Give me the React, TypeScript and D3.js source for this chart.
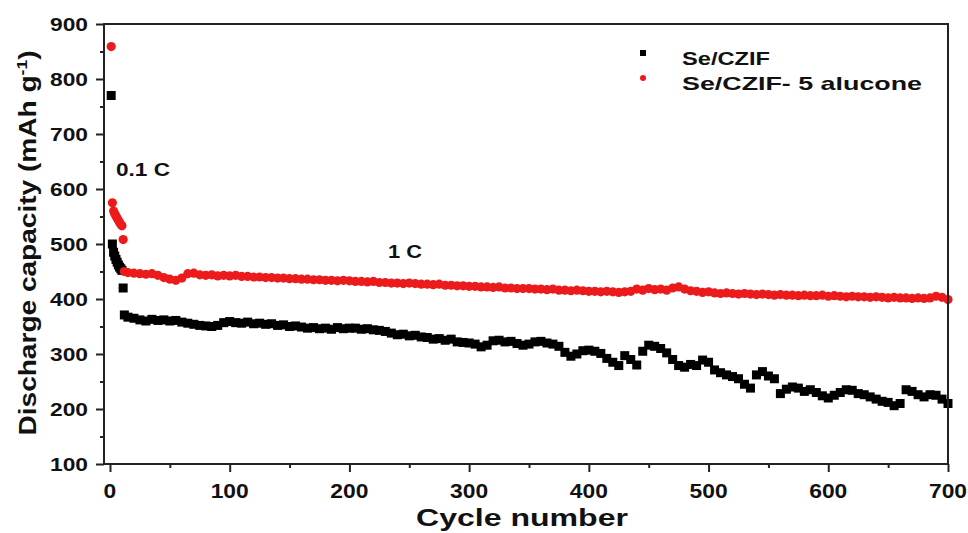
import React, { useEffect, useRef } from 'react';
import * as d3 from 'd3';

// cycle numbers
const cyclesEarly = [1, 2, 3, 4, 5, 6, 7, 8, 9, 10, 11];
const cycles1C = [12, ...d3.range(15, 701, 5)];

// Se/CZIF (black squares)
const blackEarly = [770, 500, 485, 478, 472, 467, 462, 458, 455, 452, 420];
const black1C = [
  371,
  367, 365, 362, 360, 363, 361, 362, 360, 361, 358,
  356, 354, 352, 351, 350, 352, 357, 359, 357, 356,
  358, 355, 356, 354, 355, 352, 353, 350, 351, 349,
  347, 348, 346, 347, 345, 348, 346, 347, 347, 345,
  346, 344, 343, 341, 338, 335, 336, 333, 334, 331,
  330, 327, 328, 325, 327, 322, 321, 320, 318, 313,
  316, 324, 325, 322, 323, 319, 316, 318, 322, 323,
  320, 318, 314, 303, 296, 300, 306, 307, 305, 301,
  292, 285, 279, 297, 290, 280, 305, 316, 314, 310,
  302, 290, 279, 276, 281, 279, 289, 285, 271, 266,
  262, 259, 255, 245, 238, 262, 268, 260, 255, 228,
  236, 240, 238, 232, 235, 230, 224, 220, 225, 230,
  235, 234, 228, 226, 222, 218, 214, 212, 206, 210,
  235, 232, 226, 222, 226, 225, 218, 210
];

// Se/CZIF- 5 alucone (red circles)
const redEarly = [859, 575, 560, 555, 551, 547, 543, 539, 536, 533, 508];
const red1C = [
  450,
  448, 447, 446, 445, 446, 443, 439, 436, 434, 438,
  446, 447, 444, 443, 444, 442, 443, 442, 443, 441,
  441, 440, 440, 439, 439, 438, 438, 437, 437, 436,
  436, 435, 435, 434, 434, 433, 434, 433, 432, 432,
  431, 432, 430, 430, 429, 429, 428, 429, 428, 427,
  427, 426, 427, 425, 425, 424, 424, 423, 423, 422,
  422, 421, 422, 420, 420, 419, 419, 419, 418, 418,
  417, 418, 416, 416, 415, 416, 415, 414, 414, 413,
  414, 413, 412, 413, 414, 418, 416, 419, 417, 418,
  416, 420, 422, 418, 415, 414, 412, 413, 411, 410,
  411, 410, 409, 410, 409, 408, 409, 408, 407, 408,
  407, 407, 406, 407, 406, 406, 407, 405, 406, 405,
  404, 405, 404, 404, 403, 404, 403, 402, 403, 402,
  402, 401, 402, 401, 402, 405, 403, 399
];

const xTicks = [0, 100, 200, 300, 400, 500, 600, 700];
const xMinor = [50, 150, 250, 350, 450, 550, 650];
const yTicks = [100, 200, 300, 400, 500, 600, 700, 800, 900];
const yMinor = [150, 250, 350, 450, 550, 650, 750, 850];
const seriesNames = ['Se/CZIF', 'Se/CZIF- 5 alucone'];

const FONT = '"Liberation Sans", Arial, sans-serif';

const App = () => {
  const chartRef = useRef<SVGSVGElement>(null);

  useEffect(() => {
    drawChart();
  }, []);

  const drawChart = () => {
    const svg = d3.select(chartRef.current);
    svg.selectAll('*').remove();

    const left = 104, right = 948, top = 24, bottom = 464;

    const x = d3.scaleLinear().domain([-5, 700]).range([left, right]);
    const y = d3.scaleLinear().domain([100, 900]).range([bottom, top]);

    const black = [
      ...cyclesEarly.map((c, i) => ({ c, v: blackEarly[i] })),
      ...cycles1C.map((c, i) => ({ c, v: black1C[i] }))
    ];
    const red = [
      ...cyclesEarly.map((c, i) => ({ c, v: redEarly[i] })),
      ...cycles1C.map((c, i) => ({ c, v: red1C[i] }))
    ];

    // black squares
    svg.append('g')
      .selectAll('rect')
      .data(black)
      .enter()
      .append('rect')
      .attr('x', d => x(d.c) - 4.5)
      .attr('y', d => y(d.v) - 4.5)
      .attr('width', 9)
      .attr('height', 9)
      .attr('fill', '#000');

    // red circles
    svg.append('g')
      .selectAll('circle')
      .data(red)
      .enter()
      .append('circle')
      .attr('cx', d => x(d.c))
      .attr('cy', d => y(d.v))
      .attr('r', 4.6)
      .attr('fill', '#ec1b1b');

    // frame
    svg.append('rect')
      .attr('x', left)
      .attr('y', top)
      .attr('width', right - left)
      .attr('height', bottom - top)
      .attr('fill', 'none')
      .attr('stroke', '#222')
      .attr('stroke-width', 2);

    // axes
    const xAxis = svg.append('g').attr('transform', `translate(0,${bottom})`);
    xAxis.call(d3.axisBottom(x).tickValues(xTicks).tickSize(8).tickSizeOuter(0).tickFormat(() => ''));
    xAxis.call(g => g.select('.domain').remove());
    const xAxisMinor = svg.append('g').attr('transform', `translate(0,${bottom})`);
    xAxisMinor.call(d3.axisBottom(x).tickValues(xMinor).tickSize(4).tickFormat(() => ''));
    xAxisMinor.call(g => g.select('.domain').remove());

    const yAxis = svg.append('g').attr('transform', `translate(${left},0)`);
    yAxis.call(d3.axisLeft(y).tickValues(yTicks).tickSize(8).tickSizeOuter(0).tickFormat(() => ''));
    yAxis.call(g => g.select('.domain').remove());
    const yAxisMinor = svg.append('g').attr('transform', `translate(${left},0)`);
    yAxisMinor.call(d3.axisLeft(y).tickValues(yMinor).tickSize(4).tickFormat(() => ''));
    yAxisMinor.call(g => g.select('.domain').remove());

    svg.selectAll('.tick line').attr('stroke', '#222').attr('stroke-width', 2);

    // tick labels
    svg.append('g')
      .selectAll('text')
      .data(xTicks)
      .enter()
      .append('text')
      .attr('x', d => x(d))
      .attr('y', 498)
      .attr('text-anchor', 'middle')
      .attr('textLength', d => String(d).length * 12.7)
      .attr('lengthAdjust', 'spacingAndGlyphs')
      .style('font', `bold 20px ${FONT}`)
      .attr('fill', '#111')
      .text(d => d);

    svg.append('g')
      .selectAll('text')
      .data(yTicks)
      .enter()
      .append('text')
      .attr('x', 88)
      .attr('y', d => y(d) + 7)
      .attr('text-anchor', 'end')
      .attr('textLength', 38)
      .attr('lengthAdjust', 'spacingAndGlyphs')
      .style('font', `bold 19px ${FONT}`)
      .attr('fill', '#111')
      .text(d => d);

    // axis titles
    svg.append('text')
      .attr('x', 522)
      .attr('y', 526)
      .attr('text-anchor', 'middle')
      .attr('textLength', 212)
      .attr('lengthAdjust', 'spacingAndGlyphs')
      .style('font', `bold 23px ${FONT}`)
      .attr('fill', '#111')
      .text('Cycle number');

    const yTitle = svg.append('text')
      .attr('transform', 'translate(36,243) rotate(-90)')
      .attr('text-anchor', 'middle')
      .attr('textLength', 385)
      .attr('lengthAdjust', 'spacingAndGlyphs')
      .style('font', `bold 24px ${FONT}`)
      .attr('fill', '#111');
    yTitle.append('tspan').text('Discharge capacity (mAh g');
    yTitle.append('tspan').attr('dy', -9).style('font-size', '15px').text('-1');
    yTitle.append('tspan').attr('dy', 9).text(')');

    // annotations
    svg.append('text')
      .attr('x', 116).attr('y', 176)
      .attr('textLength', 54).attr('lengthAdjust', 'spacingAndGlyphs')
      .style('font', `bold 18px ${FONT}`).attr('fill', '#111')
      .text('0.1 C');
    svg.append('text')
      .attr('x', 388).attr('y', 258)
      .attr('textLength', 34).attr('lengthAdjust', 'spacingAndGlyphs')
      .style('font', `bold 18px ${FONT}`).attr('fill', '#111')
      .text('1 C');

    // legend
    const legend = svg.append('g');
    legend.append('rect').attr('x', 640).attr('y', 50).attr('width', 6).attr('height', 6).attr('fill', '#000');
    legend.append('circle').attr('cx', 643).attr('cy', 78).attr('r', 3).attr('fill', '#ec1b1b');
    legend.append('text')
      .attr('x', 682).attr('y', 65)
      .attr('textLength', 88).attr('lengthAdjust', 'spacingAndGlyphs')
      .style('font', `bold 19px ${FONT}`).attr('fill', '#111')
      .text(seriesNames[0]);
    legend.append('text')
      .attr('x', 682).attr('y', 90)
      .attr('textLength', 240).attr('lengthAdjust', 'spacingAndGlyphs')
      .style('font', `bold 19px ${FONT}`).attr('fill', '#111')
      .text(seriesNames[1]);
  };

  return (
    <div style={{ position: 'absolute', left: 0, top: 0, width: 968, height: 533, background: '#fff' }}>
      <svg ref={chartRef} width={968} height={533}></svg>
    </div>
  );
};

export default App;
